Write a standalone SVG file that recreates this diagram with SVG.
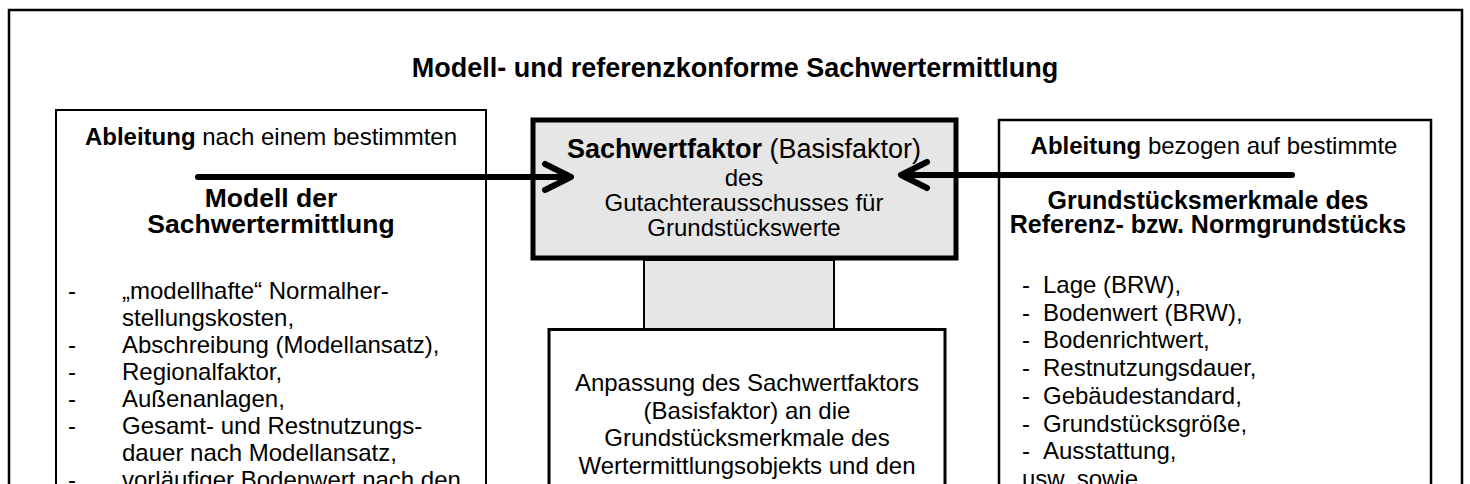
<svg xmlns="http://www.w3.org/2000/svg" width="1470" height="484" viewBox="0 0 1470 484">
<style>
text{font-family:"Liberation Sans",Arial,sans-serif;fill:#000;font-size:24px}
.c{text-anchor:middle}
.b{font-weight:bold}
.box{fill:#fff;stroke:#000}
.gray{fill:#e6e6e6;stroke:#000}
.arr{fill:none;stroke:#000;stroke-width:6;stroke-linecap:round;stroke-linejoin:round}
</style>
<rect width="1470" height="484" fill="#fff"/>
<g id="frame">
<rect x="9" y="10" width="1453" height="500" fill="none" stroke="#000" stroke-width="2.5"/>
<text class="c b" x="735" y="77" style="font-size:27px">Modell- und referenzkonforme Sachwertermittlung</text>
</g>
<g id="model">
<rect class="box" x="56" y="110" width="430" height="420" stroke-width="2"/>
<text class="c" x="271" y="145"><tspan class="b">Ableitung</tspan> nach einem bestimmten</text>
<text class="c b" x="271" y="207" style="font-size:26.5px">Modell der</text>
<text class="c b" x="271" y="233" style="font-size:26.5px">Sachwertermittlung</text>
<text x="68" y="299">-</text><text x="122" y="299">„modellhafte“ Normalher-</text>
<text x="122" y="326">stellungskosten,</text>
<text x="68" y="353">-</text><text x="122" y="353">Abschreibung (Modellansatz),</text>
<text x="68" y="380">-</text><text x="122" y="380">Regionalfaktor,</text>
<text x="68" y="407">-</text><text x="122" y="407">Außenanlagen,</text>
<text x="68" y="434">-</text><text x="122" y="434">Gesamt- und Restnutzungs-</text>
<text x="122" y="461">dauer nach Modellansatz,</text>
<text x="68" y="488">-</text><text x="122" y="488">vorläufiger Bodenwert nach den</text>
</g>
<g id="reference">
<rect class="box" x="999" y="120" width="432" height="420" stroke-width="2.5"/>
<text class="c" x="1214" y="154"><tspan class="b">Ableitung</tspan> bezogen auf bestimmte</text>
<text class="c b" x="1208" y="209" style="font-size:25px">Grundstücksmerkmale des</text>
<text class="c b" x="1208" y="233" style="font-size:25px">Referenz- bzw. Normgrundstücks</text>
<text x="1022" y="293">-</text><text x="1043" y="293">Lage (BRW),</text>
<text x="1022" y="320.7">-</text><text x="1043" y="320.7">Bodenwert (BRW),</text>
<text x="1022" y="348.4">-</text><text x="1043" y="348.4">Bodenrichtwert,</text>
<text x="1022" y="376.1">-</text><text x="1043" y="376.1">Restnutzungsdauer,</text>
<text x="1022" y="403.8">-</text><text x="1043" y="403.8">Gebäudestandard,</text>
<text x="1022" y="431.5">-</text><text x="1043" y="431.5">Grundstücksgröße,</text>
<text x="1022" y="459.2">-</text><text x="1043" y="459.2">Ausstattung,</text>
<text x="1022" y="487">usw. sowie</text>
</g>
<g id="basisfaktor">
<rect class="gray" x="533" y="120" width="423" height="138" stroke-width="5"/>
<text class="c" x="744" y="158" style="font-size:27px"><tspan class="b">Sachwertfaktor</tspan> (Basisfaktor)</text>
<text class="c" x="744" y="186">des</text>
<text class="c" x="744" y="211">Gutachterausschusses für</text>
<text class="c" x="744" y="236">Grundstückswerte</text>
</g>
<g id="anpassung">
<rect class="box" x="549" y="329.5" width="396" height="200" stroke-width="3"/>
<text class="c" x="747" y="391">Anpassung des Sachwertfaktors</text>
<text class="c" x="747" y="418.5">(Basisfaktor) an die</text>
<text class="c" x="747" y="446">Grundstücksmerkmale des</text>
<text class="c" x="747" y="473.5">Wertermittlungsobjekts und den</text>
</g>
<g id="connectors">
<rect class="gray" x="644" y="260" width="190" height="69" stroke-width="2"/>
<path class="arr" d="M198 177 H569 M545 164 L571 177 L545 190"/>
<path class="arr" d="M1292 175 H903 M927 162 L901 175 L927 188"/>
</g>
</svg>
